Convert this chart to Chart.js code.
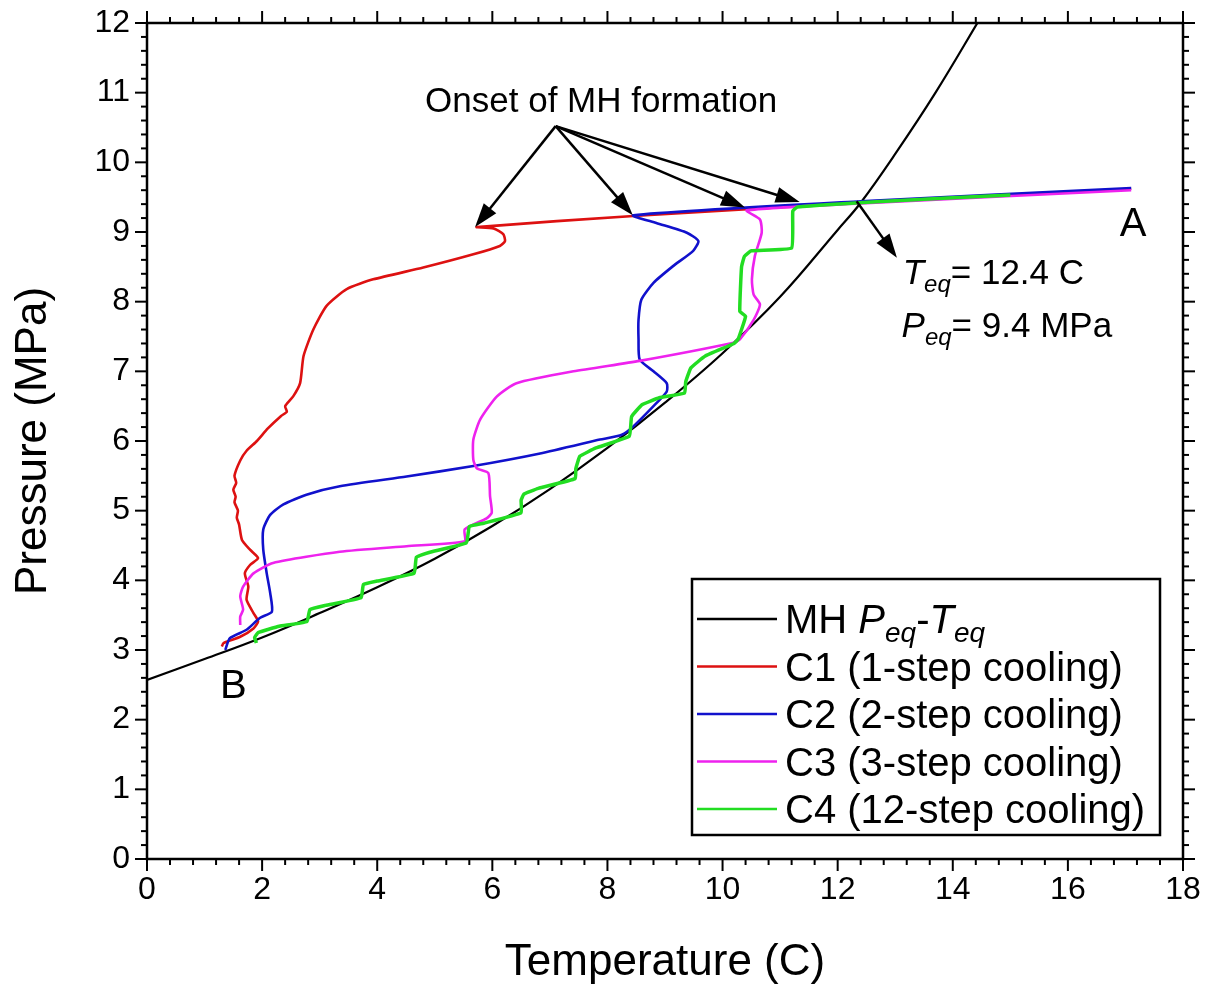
<!DOCTYPE html>
<html><head><meta charset="utf-8">
<script src="https://cdn.jsdelivr.net/npm/chart.js@4.4.1/dist/chart.umd.min.js"></script>
<style>html,body{margin:0;padding:0;background:#fff;}</style>
</head><body>
<canvas id="c" width="1216" height="993"></canvas>
<script>
// ---------------- DATA ----------------
const xTickLabels = [0, 2, 4, 6, 8, 10, 12, 14, 16, 18];
const yTickLabels = [0, 1, 2, 3, 4, 5, 6, 7, 8, 9, 10, 11, 12];
const xMinorStep = 0.4;
const yMinorStep = 0.2;

// MH equilibrium curve
const eqT = [0, 1, 2, 3, 4, 5, 6, 7, 8, 9, 10, 11, 12, 12.4, 13, 13.7, 14.5];
const eqP = [2.57, 2.87, 3.18, 3.53, 3.90, 4.31, 4.78, 5.31, 5.90, 6.55, 7.26, 8.07, 9.03, 9.42, 10.12, 11.0, 12.1];

// C1 (1-step cooling)
const c1T = [17.1, 12.4, 8.45, 5.73, 6.02, 6.19, 6.22, 6.13, 5.67, 4.80, 3.93, 3.47, 3.12, 2.89, 2.72, 2.66, 2.54, 2.40, 2.43, 2.33, 2.10, 1.91, 1.73, 1.62, 1.52, 1.55, 1.50, 1.54, 1.52, 1.58, 1.56, 1.60, 1.65, 1.79, 1.93, 1.79, 1.70, 1.76, 1.73, 1.85, 1.93, 1.85, 1.62, 1.33, 1.30];
const c1P = [9.62, 9.42, 9.23, 9.07, 9.05, 8.97, 8.87, 8.80, 8.68, 8.49, 8.32, 8.18, 7.94, 7.60, 7.22, 6.83, 6.64, 6.50, 6.42, 6.36, 6.18, 6.00, 5.86, 5.72, 5.50, 5.40, 5.30, 5.20, 5.12, 5.00, 4.90, 4.80, 4.58, 4.44, 4.32, 4.22, 4.10, 3.91, 3.72, 3.53, 3.41, 3.31, 3.19, 3.10, 3.05];

// C2 (2-step cooling)
const c2T = [17.1, 12.4, 8.45, 8.85, 9.38, 9.58, 9.49, 9.14, 8.80, 8.59, 8.54, 8.54, 8.56, 8.80, 9.03, 9.03, 8.80, 8.45, 8.25, 7.87, 6.83, 5.67, 4.51, 3.35, 2.77, 2.37, 2.14, 2.02, 2.02, 2.08, 2.14, 2.17, 1.96, 1.73, 1.44, 1.36];
const c2P = [9.63, 9.44, 9.24, 9.13, 8.99, 8.87, 8.73, 8.51, 8.27, 8.03, 7.74, 7.46, 7.17, 7.00, 6.83, 6.71, 6.50, 6.21, 6.09, 6.02, 5.82, 5.64, 5.49, 5.35, 5.23, 5.09, 4.94, 4.73, 4.44, 4.10, 3.82, 3.55, 3.46, 3.29, 3.17, 3.00];

// C3 (3-step cooling)
const c3T = [17.1, 12.4, 10.42, 10.65, 10.68, 10.56, 10.51, 10.54, 10.65, 10.54, 10.30, 10.19, 8.56, 7.41, 6.42, 6.08, 5.79, 5.67, 5.67, 5.73, 5.93, 5.96, 5.99, 5.90, 5.52, 5.52, 4.51, 3.35, 2.19, 1.85, 1.67, 1.62, 1.67, 1.62, 1.62];
const c3P = [9.60, 9.41, 9.31, 9.18, 8.99, 8.65, 8.32, 8.10, 7.96, 7.74, 7.46, 7.41, 7.15, 7.00, 6.83, 6.64, 6.31, 6.02, 5.73, 5.61, 5.54, 5.21, 4.97, 4.89, 4.73, 4.56, 4.49, 4.41, 4.25, 4.10, 3.91, 3.77, 3.58, 3.48, 3.36];

// C4 (12-step cooling)
const c4T = [15.0, 13.0, 11.3, 11.22, 11.2, 10.5, 10.38, 10.33, 10.30, 10.40, 10.27, 10.2, 9.7, 9.45, 9.36, 9.34, 8.9, 8.6, 8.42, 8.38, 7.8, 7.52, 7.45, 7.44, 6.8, 6.55, 6.5, 6.5, 5.85, 5.6, 5.55, 4.9, 4.68, 4.64, 4.0, 3.76, 3.72, 3.1, 2.83, 2.78, 2.3, 1.93, 1.87, 1.90];
const c4P = [9.53, 9.45, 9.36, 9.30, 8.77, 8.73, 8.65, 8.50, 7.86, 7.79, 7.46, 7.40, 7.22, 7.05, 6.85, 6.69, 6.62, 6.52, 6.35, 6.07, 5.90, 5.78, 5.60, 5.46, 5.32, 5.24, 5.15, 4.97, 4.82, 4.77, 4.54, 4.40, 4.33, 4.10, 3.99, 3.94, 3.75, 3.64, 3.58, 3.41, 3.34, 3.25, 3.18, 3.10];

// annotation anchor points (data coordinates)
const onsetFrom = [7.10, 10.52];
const onsetTo = [[5.70, 9.07], [8.44, 9.24], [10.39, 9.35], [11.34, 9.43]];
const eqArrowFrom = [12.33, 9.44];
const eqArrowTo = [13.03, 8.63];

// ---------------- CHART ----------------
const FONT = "'Liberation Sans', Arial, Helvetica, sans-serif";
const toXY = (T, P) => T.map((t, i) => ({x: t, y: P[i]}));

function line(ctx, x1, y1, x2, y2) { ctx.beginPath(); ctx.moveTo(x1, y1); ctx.lineTo(x2, y2); ctx.stroke(); }
function arrow(ctx, x1, y1, x2, y2) {
  const ang = Math.atan2(y2 - y1, x2 - x1), hl = 24, hw = 8;
  const bx = x2 - hl * Math.cos(ang), by = y2 - hl * Math.sin(ang);
  ctx.lineWidth = 2.5; line(ctx, x1, y1, bx + 2 * Math.cos(ang), by + 2 * Math.sin(ang));
  ctx.beginPath(); ctx.moveTo(x2, y2);
  ctx.lineTo(bx + hw * Math.sin(ang), by - hw * Math.cos(ang));
  ctx.lineTo(bx - hw * Math.sin(ang), by + hw * Math.cos(ang));
  ctx.closePath(); ctx.fill();
}
function rich(ctx, x, y, parts) {
  let cx = x;
  ctx.textAlign = 'left'; ctx.textBaseline = 'alphabetic';
  for (const p of parts) {
    ctx.font = (p.it ? 'italic ' : '') + p.size + 'px ' + FONT;
    ctx.fillText(p.t, cx, y + (p.dy || 0));
    cx += ctx.measureText(p.t).width;
  }
}

const decor = {
  id: 'decor',
  afterDraw(chart) {
    const {ctx, chartArea: a, scales: {x, y}} = chart;
    ctx.save();
    ctx.strokeStyle = '#000'; ctx.fillStyle = '#000'; ctx.lineCap = 'butt';
    ctx.lineWidth = 2;
    const nx = Math.round((x.max - x.min) / xMinorStep);
    for (let i = 0; i <= nx; i++) {
      const v = x.min + i * xMinorStep, px = x.getPixelForValue(v);
      const L = (i % 5 === 0) ? 12 : 6;
      line(ctx, px, a.bottom, px, a.bottom + L);
      line(ctx, px, a.top, px, a.top - L);
    }
    const ny = Math.round((y.max - y.min) / yMinorStep);
    for (let i = 0; i <= ny; i++) {
      const v = y.min + i * yMinorStep, py = y.getPixelForValue(v);
      const L = (i % 5 === 0) ? 12 : 6;
      line(ctx, a.left - L, py, a.left, py);
      line(ctx, a.right, py, a.right + L, py);
    }
    ctx.lineWidth = 2.5;
    ctx.strokeRect(a.left, a.top, a.right - a.left, a.bottom - a.top);

    // arrows
    const fx = x.getPixelForValue(onsetFrom[0]), fy = y.getPixelForValue(onsetFrom[1]);
    for (const t of onsetTo) arrow(ctx, fx, fy, x.getPixelForValue(t[0]), y.getPixelForValue(t[1]));
    arrow(ctx, x.getPixelForValue(eqArrowFrom[0]), y.getPixelForValue(eqArrowFrom[1]),
               x.getPixelForValue(eqArrowTo[0]), y.getPixelForValue(eqArrowTo[1]));

    // texts
    ctx.font = '35px ' + FONT; ctx.textAlign = 'center'; ctx.textBaseline = 'alphabetic';
    ctx.fillText('Onset of MH formation', x.getPixelForValue(7.89), y.getPixelForValue(10.72));
    ctx.font = '40px ' + FONT; ctx.textAlign = 'left';
    ctx.fillText('A', x.getPixelForValue(16.90), y.getPixelForValue(8.94));
    ctx.fillText('B', x.getPixelForValue(1.27), y.getPixelForValue(2.31));
    rich(ctx, x.getPixelForValue(13.13), y.getPixelForValue(8.25), [
      {t: 'T', it: true, size: 35}, {t: 'eq', it: true, size: 24, dy: 8}, {t: '= 12.4 C', size: 35}]);
    rich(ctx, x.getPixelForValue(13.11), y.getPixelForValue(7.50), [
      {t: 'P', it: true, size: 35}, {t: 'eq', it: true, size: 24, dy: 8}, {t: '= 9.4 MPa', size: 35}]);

    // legend
    const L = {x0: 692, y0: 579, x1: 1160, y1: 835};
    ctx.fillStyle = '#fff'; ctx.fillRect(L.x0, L.y0, L.x1 - L.x0, L.y1 - L.y0);
    ctx.fillStyle = '#000'; ctx.lineWidth = 2.5;
    ctx.strokeRect(L.x0, L.y0, L.x1 - L.x0, L.y1 - L.y0);
    const FS = 40, SS = 28;
    const rows = [
      {c: '#000000', parts: [{t: 'MH ', size: FS}, {t: 'P', it: true, size: FS}, {t: 'eq', it: true, size: SS, dy: 9}, {t: '-', size: FS}, {t: 'T', it: true, size: FS}, {t: 'eq', it: true, size: SS, dy: 9}]},
      {c: '#DD1111', parts: [{t: 'C1 (1-step cooling)', size: FS}]},
      {c: '#1111CC', parts: [{t: 'C2 (2-step cooling)', size: FS}]},
      {c: '#EE22EE', parts: [{t: 'C3 (3-step cooling)', size: FS}]},
      {c: '#22DD22', parts: [{t: 'C4 (12-step cooling)', size: FS}]}
    ];
    rows.forEach((r, i) => {
      const cy = 619 + i * 47.5;
      ctx.strokeStyle = r.c; ctx.lineWidth = 2.5; line(ctx, 697, cy, 777, cy);
      ctx.fillStyle = '#000'; rich(ctx, 785, cy + 14, r.parts);
    });
    ctx.restore();
  }
};

const common = {pointRadius: 0, fill: false, showLine: true};
new Chart(document.getElementById('c'), {
  type: 'scatter',
  data: {
    datasets: [
      {...common, label: 'C4 (12-step cooling)', data: toXY(c4T, c4P), borderColor: '#22DD22', borderWidth: 3.5, tension: 0.1},
      {...common, label: 'C3 (3-step cooling)', data: toXY(c3T, c3P), borderColor: '#EE22EE', borderWidth: 2.6, tension: 0.2},
      {...common, label: 'C2 (2-step cooling)', data: toXY(c2T, c2P), borderColor: '#1111CC', borderWidth: 2.6, tension: 0.2},
      {...common, label: 'C1 (1-step cooling)', data: toXY(c1T, c1P), borderColor: '#DD1111', borderWidth: 2.6, tension: 0.2},
      {...common, label: 'MH Peq-Teq', data: toXY(eqT, eqP), borderColor: '#000000', borderWidth: 2.2, tension: 0.4}
    ]
  },
  options: {
    responsive: false, devicePixelRatio: 1, animation: false,
    layout: {padding: {top: 23, right: 33, left: 0, bottom: 0}},
    plugins: {legend: {display: false}, tooltip: {enabled: false}},
    scales: {
      x: {
        type: 'linear', min: 0, max: 18,
        afterBuildTicks: s => { s.ticks = xTickLabels.map(v => ({value: v})); },
        afterFit: s => { s.height = 134; s.paddingLeft = 0; s.paddingRight = 0; },
        ticks: {color: '#000', font: {family: FONT, size: 32}, padding: 12, maxRotation: 0},
        grid: {display: false, drawTicks: false}, border: {display: false},
        title: {display: true, text: 'Temperature (C)', color: '#000', font: {family: FONT, size: 44}, padding: {top: 0, bottom: 4}}
      },
      y: {
        type: 'linear', min: 0, max: 12,
        afterBuildTicks: s => { s.ticks = yTickLabels.map(v => ({value: v})); },
        afterFit: s => { s.width = 147; s.paddingTop = 0; s.paddingBottom = 0; },
        ticks: {color: '#000', font: {family: FONT, size: 32}, padding: 17},
        grid: {display: false, drawTicks: false}, border: {display: false},
        title: {display: true, text: 'Pressure (MPa)', color: '#000', font: {family: FONT, size: 44}, padding: {top: 7, bottom: 0}}
      }
    }
  },
  plugins: [decor]
});
</script>
</body></html>
